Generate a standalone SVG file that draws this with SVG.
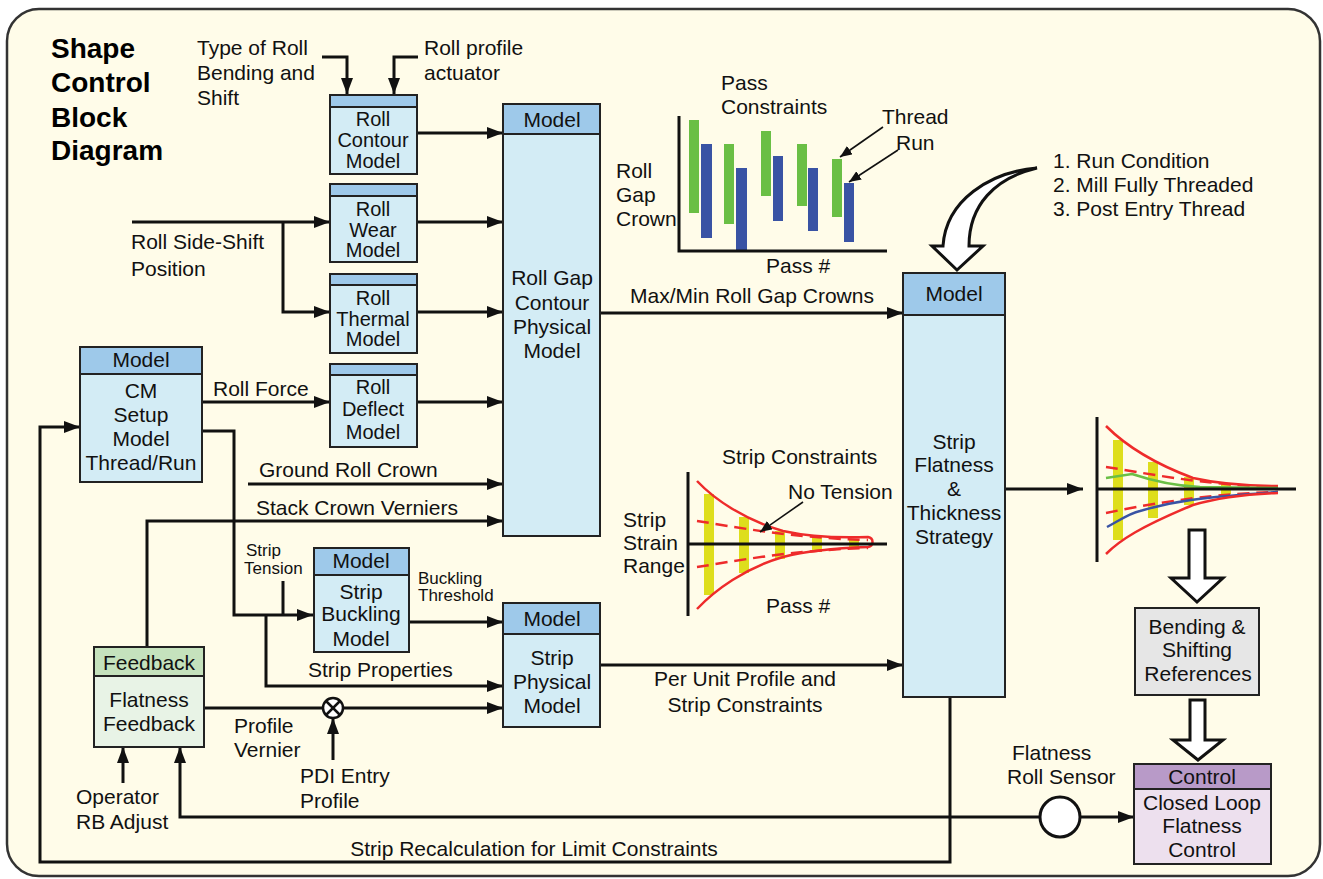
<svg xmlns="http://www.w3.org/2000/svg" width="1323" height="879" viewBox="0 0 1323 879">
<defs>
<style>
.box{fill:#d3ecf5;stroke:#222;stroke-width:2}
.hdr{fill:#9ec9ea;stroke:#222;stroke-width:2}
.t{font-family:"Liberation Sans",Arial,sans-serif;font-size:21px;fill:#111}
.c{text-anchor:middle}
.s{font-size:17px}
.r{font-size:20px}
.title{font-family:"Liberation Sans",Arial,sans-serif;font-size:28px;font-weight:bold;fill:#000}
.w{fill:none;stroke:#111;stroke-width:3}
.a{marker-end:url(#ah)}
.thin{fill:none;stroke:#111;stroke-width:1.6;marker-end:url(#ta)}
.ax{stroke:#111;stroke-width:3}
.rd{fill:none;stroke:#ee2b2b;stroke-width:2.5}
.rdd{fill:none;stroke:#ee2b2b;stroke-width:2.5;stroke-dasharray:12 7}
.yb{fill:#dede1c}
.gb{fill:#6abf45}
.bb{fill:#3953a4}
.big{fill:#fff;stroke:#111;stroke-width:3;stroke-linejoin:miter}
</style>
<marker id="ah" viewBox="0 0 16 12" refX="16" refY="6" markerWidth="16" markerHeight="12" markerUnits="userSpaceOnUse" orient="auto"><path d="M0,0 L16,6 L0,12 z" fill="#111"/></marker>
<marker id="ta" viewBox="0 0 12 10" refX="12" refY="5" markerWidth="12" markerHeight="10" markerUnits="userSpaceOnUse" orient="auto"><path d="M0,0 L12,5 L0,10 z" fill="#111"/></marker>
</defs>

<rect x="7" y="9" width="1313" height="867" rx="32" ry="32" fill="#fffce9" stroke="#333" stroke-width="2.5"/>

<g id="title">
<text class="title" x="51" y="58">Shape</text>
<text class="title" x="51" y="92">Control</text>
<text class="title" x="51" y="127">Block</text>
<text class="title" x="51" y="160">Diagram</text>
</g>

<g id="connectors">
<polyline class="w a" points="322,57 347,57 347,94"/>
<polyline class="w a" points="418,57 394,57 394,94"/>
<line class="w a" x1="417" y1="133" x2="503" y2="133"/>
<line class="w a" x1="417" y1="222" x2="503" y2="222"/>
<line class="w a" x1="417" y1="312" x2="503" y2="312"/>
<line class="w a" x1="417" y1="402" x2="503" y2="402"/>
<line class="w a" x1="132" y1="222" x2="330" y2="222"/>
<polyline class="w a" points="283,222 283,312 330,312"/>
<line class="w a" x1="202" y1="402" x2="330" y2="402"/>
<polyline class="w a" points="202,431 234,431 234,615 313,615"/>
<line class="w" x1="283" y1="581" x2="283" y2="615"/>
<polyline class="w a" points="266,615 266,686 503,686"/>
<line class="w a" x1="248" y1="484" x2="503" y2="484"/>
<polyline class="w a" points="147,647 147,521 503,521"/>
<line class="w a" x1="409" y1="622" x2="503" y2="622"/>
<line class="w" x1="204" y1="708" x2="323" y2="708"/>
<line class="w a" x1="343" y1="708" x2="503" y2="708"/>
<line class="w a" x1="333" y1="760" x2="333" y2="718"/>
<line class="w a" x1="123" y1="783" x2="123" y2="747"/>
<polyline class="w a" points="1040,817 180,817 180,747"/>
<line class="w a" x1="1080" y1="817" x2="1134" y2="817"/>
<polyline class="w a" points="950,697 950,862 40,862 40,427 80,427"/>
<line class="w a" x1="600" y1="313" x2="903" y2="313"/>
<line class="w a" x1="600" y1="665" x2="903" y2="665"/>
<line class="w a" x1="1005" y1="489" x2="1083" y2="489"/>
<path class="big" d="M1037,168 C990,172 946,200 943,246 L932,246 L957,270 L983,246 L969,246 C969,205 995,178 1037,168 Z"/>
<path class="big" d="M1189,530 L1205,530 L1205,578 L1223,578 L1197,602 L1171,578 L1189,578 Z"/>
<path class="big" d="M1190,700 L1205,700 L1205,740 L1223,740 L1198,760 L1173,740 L1190,740 Z"/>
</g>

<g id="mult">
<circle cx="333" cy="708" r="10" fill="#fff" stroke="#111" stroke-width="2.5"/>
<line x1="326" y1="701" x2="340" y2="715" stroke="#111" stroke-width="2.5"/>
<line x1="340" y1="701" x2="326" y2="715" stroke="#111" stroke-width="2.5"/>
</g>

<g id="labels">
<text class="t" x="197" y="55">Type of Roll</text>
<text class="t" x="197" y="80">Bending and</text>
<text class="t" x="197" y="105">Shift</text>
<text class="t" x="424" y="55">Roll profile</text>
<text class="t" x="424" y="80">actuator</text>
<text class="t" x="131" y="249">Roll Side-Shift</text>
<text class="t" x="131" y="276">Position</text>
<text class="t" x="213" y="396">Roll Force</text>
<text class="t" x="259" y="477">Ground Roll Crown</text>
<text class="t" x="256" y="515">Stack Crown Verniers</text>
<text class="t s" x="246" y="556">Strip</text>
<text class="t s" x="244" y="574">Tension</text>
<text class="t s" x="418" y="584">Buckling</text>
<text class="t s" x="418" y="601">Threshold</text>
<text class="t" x="308" y="677">Strip Properties</text>
<text class="t c" x="745" y="686">Per Unit Profile and</text>
<text class="t c" x="745" y="712">Strip Constraints</text>
<text class="t" x="234" y="733">Profile</text>
<text class="t" x="234" y="757">Vernier</text>
<text class="t" x="300" y="783">PDI Entry</text>
<text class="t" x="300" y="808">Profile</text>
<text class="t" x="76" y="804">Operator</text>
<text class="t" x="76" y="829">RB Adjust</text>
<text class="t c" x="534" y="856">Strip Recalculation for Limit Constraints</text>
<text class="t" x="630" y="303">Max/Min Roll Gap Crowns</text>
<text class="t" x="1053" y="168">1. Run Condition</text>
<text class="t" x="1053" y="192">2. Mill Fully Threaded</text>
<text class="t" x="1053" y="216">3. Post Entry Thread</text>
<text class="t" x="1012" y="760">Flatness</text>
<text class="t" x="1007" y="784">Roll Sensor</text>
</g>

<g id="pass-chart">
<rect class="gb" x="689" y="120" width="10" height="93"/>
<rect class="bb" x="701" y="144" width="11" height="94"/>
<rect class="gb" x="724" y="144" width="10" height="80"/>
<rect class="bb" x="736" y="168" width="11" height="82"/>
<rect class="gb" x="761" y="131" width="10" height="65"/>
<rect class="bb" x="773" y="156" width="10" height="65"/>
<rect class="gb" x="797" y="144" width="10" height="62"/>
<rect class="bb" x="808" y="168" width="10" height="63"/>
<rect class="gb" x="832" y="159" width="10" height="58"/>
<rect class="bb" x="844" y="183" width="10" height="59"/>
<polyline class="ax" fill="none" points="679,116 679,251 887,251"/>
<line class="thin" x1="883" y1="127" x2="840" y2="157"/>
<line class="thin" x1="898" y1="150" x2="849" y2="182"/>
<text class="t" x="721" y="90">Pass</text>
<text class="t" x="721" y="114">Constraints</text>
<text class="t" x="882" y="124">Thread</text>
<text class="t" x="896" y="150">Run</text>
<text class="t" x="616" y="178">Roll</text>
<text class="t" x="616" y="202">Gap</text>
<text class="t" x="616" y="226">Crown</text>
<text class="t" x="766" y="273">Pass #</text>
</g>

<g id="strip-chart">
<rect class="yb" x="704" y="494" width="10" height="101"/>
<rect class="yb" x="739" y="517" width="10" height="56"/>
<rect class="yb" x="775" y="531" width="10" height="28"/>
<rect class="yb" x="812" y="537" width="10" height="15"/>
<rect class="yb" x="849" y="540" width="10" height="9"/>
<path class="rd" d="M697,481 C715,500 745,520 783,531 C810,537 840,538 868,537 C874,538 874,546 868,547 C840,548 810,550 783,557 C745,568 715,590 697,609"/>
<path class="rdd" d="M697,521 C730,526 790,538 868,540"/>
<path class="rdd" d="M697,567 C730,562 790,550 868,548"/>
<line class="ax" x1="688" y1="472" x2="688" y2="616"/>
<line class="ax" x1="688" y1="544" x2="887" y2="544"/>
<line class="thin" x1="803" y1="502" x2="760" y2="532"/>
<text class="t" x="722" y="464">Strip Constraints</text>
<text class="t" x="788" y="499">No Tension</text>
<text class="t" x="623" y="527">Strip</text>
<text class="t" x="623" y="550">Strain</text>
<text class="t" x="623" y="573">Range</text>
<text class="t" x="766" y="613">Pass #</text>
</g>

<g id="result-chart">
<rect class="yb" x="1113" y="440" width="10" height="100"/>
<rect class="yb" x="1148" y="462" width="10" height="56"/>
<rect class="yb" x="1184" y="477" width="10" height="28"/>
<rect class="yb" x="1221" y="484" width="10" height="10"/>
<path class="rd" d="M1106,426 C1125,445 1150,462 1193,478 C1220,484 1250,486 1278,486"/>
<path class="rdd" d="M1106,467 C1140,472 1200,485 1278,487"/>
<path fill="none" stroke="#6abf45" stroke-width="2.5" d="M1106,478 L1132,474 C1150,480 1175,486 1200,487 L1278,488"/>
<path class="rdd" d="M1106,513 C1140,506 1200,494 1278,492"/>
<path fill="none" stroke="#3953a4" stroke-width="2.5" d="M1107,527 C1120,520 1130,513 1140,511 C1170,502 1200,497 1278,492"/>
<path class="rd" d="M1106,554 C1120,540 1140,527 1193,505 C1220,497 1250,494 1278,493"/>
<line class="ax" x1="1097" y1="417" x2="1097" y2="562"/>
<line class="ax" x1="1097" y1="489" x2="1296" y2="489"/>
</g>

<g id="roll-contour">
<rect class="box" x="330" y="95" width="87" height="79"/>
<rect class="hdr" x="330" y="95" width="87" height="12"/>
<text class="t c r" x="373" y="126">Roll</text>
<text class="t c r" x="373" y="147">Contour</text>
<text class="t c r" x="373" y="168">Model</text>
</g>
<g id="roll-wear">
<rect class="box" x="330" y="184" width="87" height="78"/>
<rect class="hdr" x="330" y="184" width="87" height="12"/>
<text class="t c r" x="373" y="216">Roll</text>
<text class="t c r" x="373" y="237">Wear</text>
<text class="t c r" x="373" y="257">Model</text>
</g>
<g id="roll-thermal">
<rect class="box" x="330" y="274" width="87" height="79"/>
<rect class="hdr" x="330" y="274" width="87" height="11"/>
<text class="t c r" x="373" y="305">Roll</text>
<text class="t c r" x="373" y="326">Thermal</text>
<text class="t c r" x="373" y="346">Model</text>
</g>
<g id="roll-deflect">
<rect class="box" x="330" y="364" width="87" height="83"/>
<rect class="hdr" x="330" y="364" width="87" height="11"/>
<text class="t c r" x="373" y="394">Roll</text>
<text class="t c r" x="373" y="416">Deflect</text>
<text class="t c r" x="373" y="439">Model</text>
</g>
<g id="roll-gap-model">
<rect class="box" x="503" y="104" width="97" height="432"/>
<rect class="hdr" x="503" y="104" width="97" height="30"/>
<text class="t c" x="552" y="127">Model</text>
<text class="t c" x="552" y="285">Roll Gap</text>
<text class="t c" x="552" y="310">Contour</text>
<text class="t c" x="552" y="334">Physical</text>
<text class="t c" x="552" y="358">Model</text>
</g>
<g id="cm-setup">
<rect class="box" x="80" y="347" width="122" height="135"/>
<rect class="hdr" x="80" y="347" width="122" height="27"/>
<text class="t c" x="141" y="367">Model</text>
<text class="t c" x="141" y="398">CM</text>
<text class="t c" x="141" y="422">Setup</text>
<text class="t c" x="141" y="446">Model</text>
<text class="t c" x="141" y="470">Thread/Run</text>
</g>
<g id="strip-buckling">
<rect class="box" x="314" y="548" width="95" height="104"/>
<rect class="hdr" x="314" y="548" width="95" height="27"/>
<text class="t c" x="361" y="568">Model</text>
<text class="t c" x="361" y="599">Strip</text>
<text class="t c" x="361" y="621">Buckling</text>
<text class="t c" x="361" y="646">Model</text>
</g>
<g id="strip-physical">
<rect class="box" x="503" y="603" width="97" height="124"/>
<rect class="hdr" x="503" y="603" width="97" height="31"/>
<text class="t c" x="552" y="626">Model</text>
<text class="t c" x="552" y="665">Strip</text>
<text class="t c" x="552" y="689">Physical</text>
<text class="t c" x="552" y="713">Model</text>
</g>
<g id="flatness-feedback">
<rect x="94" y="647" width="110" height="100" fill="#e8f3e6" stroke="#222" stroke-width="2"/>
<rect x="94" y="647" width="110" height="29" fill="#c5e2bd" stroke="#222" stroke-width="2"/>
<text class="t c" x="149" y="670">Feedback</text>
<text class="t c" x="149" y="707">Flatness</text>
<text class="t c" x="149" y="731">Feedback</text>
</g>
<g id="strategy">
<rect class="box" x="903" y="273" width="102" height="424"/>
<rect class="hdr" x="903" y="273" width="102" height="42"/>
<text class="t c" x="954" y="301">Model</text>
<text class="t c" x="954" y="449">Strip</text>
<text class="t c" x="954" y="472">Flatness</text>
<text class="t c" x="954" y="496">&amp;</text>
<text class="t c" x="954" y="520">Thickness</text>
<text class="t c" x="954" y="544">Strategy</text>
</g>
<g id="bending-refs">
<rect x="1135" y="608" width="124" height="87" fill="#e6e6e6" stroke="#222" stroke-width="2"/>
<text class="t c" x="1197" y="634">Bending &amp;</text>
<text class="t c" x="1197" y="657">Shifting</text>
<text class="t c" x="1198" y="681">References</text>
</g>
<g id="sensor">
<circle cx="1060" cy="817" r="20" fill="#fff" stroke="#111" stroke-width="3"/>
</g>
<g id="closed-loop">
<rect x="1134" y="764" width="137" height="100" fill="#ede0ee" stroke="#222" stroke-width="2"/>
<rect x="1134" y="764" width="137" height="25" fill="#b89ac8" stroke="#222" stroke-width="2"/>
<text class="t c" x="1202" y="784">Control</text>
<text class="t c" x="1202" y="810">Closed Loop</text>
<text class="t c" x="1202" y="833">Flatness</text>
<text class="t c" x="1202" y="857">Control</text>
</g>
</svg>
